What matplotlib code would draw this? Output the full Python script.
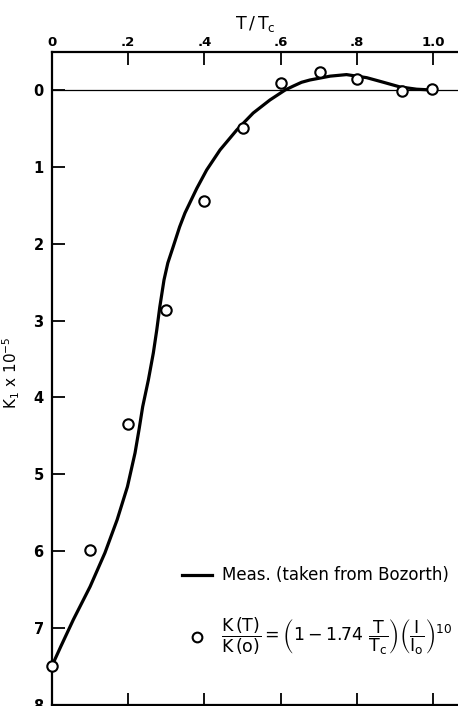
import numpy as np
import matplotlib.pyplot as plt

plt.rcParams['font.family'] = ['DejaVu Sans']
plt.rcParams['mathtext.fontset'] = 'dejavusans'

# 计算点 (圆圈)
pts_t = [0.0, 0.1, 0.2, 0.3, 0.4, 0.5, 0.6, 0.703, 0.80, 0.919, 0.998]
pts_k = [7.49, 5.99, 4.35, 2.86, 1.45, 0.49, -0.09, -0.24, -0.14, 0.01, -0.01]

meas_t = [0.0, 0.023, 0.056, 0.100, 0.139, 0.171, 0.198, 0.218, 0.229, 0.238,
          0.253, 0.266, 0.275, 0.283, 0.294, 0.304, 0.318, 0.335, 0.349, 0.380,
          0.406, 0.441, 0.485, 0.528, 0.572, 0.612, 0.633, 0.655, 0.677, 0.730,
          0.773, 0.826, 0.870, 0.913, 0.957, 0.997]
meas_k = [7.49, 7.24, 6.89, 6.46, 6.02, 5.59, 5.16, 4.72, 4.40, 4.12,
          3.77, 3.42, 3.12, 2.82, 2.47, 2.25, 2.04, 1.78, 1.60, 1.28,
          1.04, 0.78, 0.52, 0.30, 0.13, 0.0, -0.05, -0.10, -0.13, -0.18,
          -0.20, -0.16, -0.10, -0.04, -0.01, 0.0]

xticks = [0, 0.2, 0.4, 0.6, 0.8, 1.0]
xtick_labels = ['0', '.2', '.4', '.6', '.8', '1.0']
yticks = [0, 1, 2, 3, 4, 5, 6, 7, 8]

fig = plt.figure(figsize=(4.58, 7.06), dpi=100)
ax = fig.add_axes([52 / 458, 1 / 706, 406 / 458, 653 / 706])

ax.plot(meas_t, meas_k, color='black', lw=2.3, solid_capstyle='round', solid_joinstyle='round')
ax.plot(pts_t, pts_k, 'o', mfc='white', mec='black', ms=7.5, mew=1.5, clip_on=False, zorder=5)
ax.axhline(0, color='black', lw=0.9)

ax.set_xlim(0, 1.0656)
ax.set_ylim(8.0, -0.494)

ax.spines['right'].set_visible(False)
for s in ['left', 'top', 'bottom']:
    ax.spines[s].set_linewidth(1.6)

ax.xaxis.tick_top()
ax.xaxis.set_label_position('top')
ax.set_xticks(xticks)
ax.set_xticklabels(xtick_labels, fontsize=9.5, fontweight='bold')
ax.tick_params(axis='x', which='both', top=True, bottom=True, direction='in',
               length=9, width=1.3, pad=2)
ax.set_yticks(yticks)
ax.set_yticklabels([str(v) for v in yticks], fontsize=10.5, fontweight='bold')
ax.tick_params(axis='y', direction='in', length=9, width=1.3, pad=6, right=False)

ax.set_xlabel(r'$\mathrm{T\,/\,T_c}$', fontsize=12.5, labelpad=5)
fig.text(11 / 458, 1 - 373 / 706, r'$\mathrm{K_1\ x\ 10^{-5}}$', fontsize=11,
         rotation=90, ha='center', va='center')

# 图例
ax.plot([0.342, 0.42], [6.31, 6.31], color='black', lw=2.3, clip_on=False)
ax.text(0.447, 6.31, 'Meas. (taken from Bozorth)', fontsize=12, va='center')
ax.plot([0.38], [7.11], 'o', mfc='white', mec='black', ms=7, mew=1.5)
ax.text(0.443, 7.11,
        r'$\mathrm{\dfrac{K\,(T)}{K\,(o)} = \left(1 - 1.74\ \dfrac{T}{T_c}\right)\left(\dfrac{I}{I_o}\right)^{10}}$',
        fontsize=12.5, va='center')

fig.savefig('out.png', dpi=100)
